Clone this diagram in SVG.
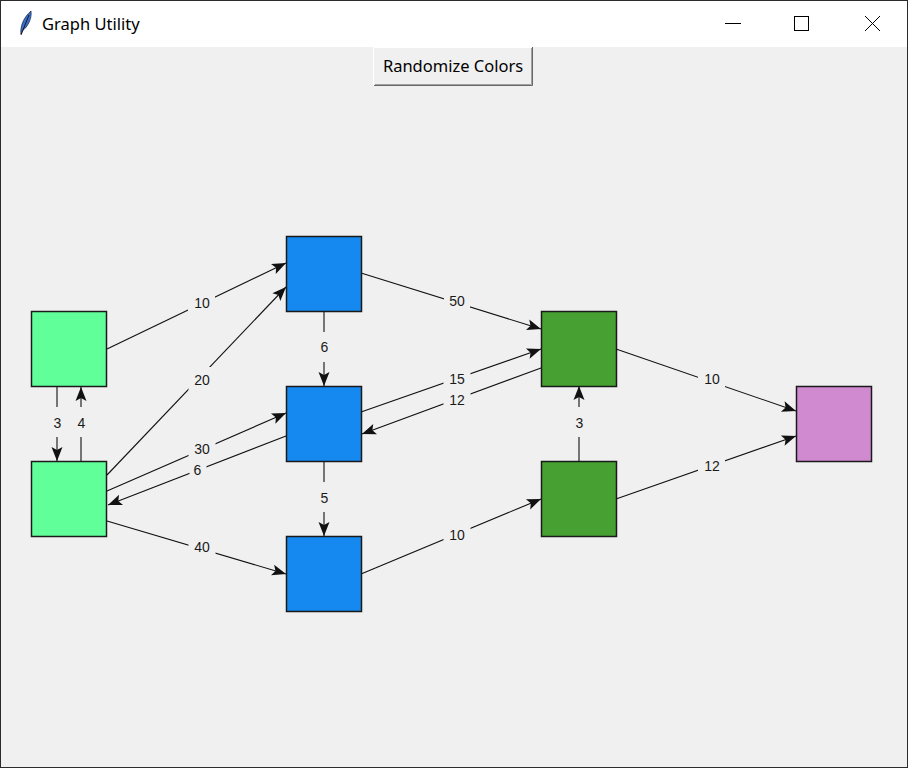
<svg xmlns="http://www.w3.org/2000/svg" width="908" height="768" viewBox="0 0 908 768">
<style>
.node{stroke:#1a1a1a;stroke-width:1.5}
.lg{fill:#60ff9a}
.bl{fill:#1589f0}
.dg{fill:#46a032}
.pk{fill:#d08ad0}
.edge{stroke:#111;stroke-width:1.1;fill:none;marker-end:url(#arr)}
.lblbg{fill:#f0f0f0}
.lbl{font-family:"Liberation Sans",Arial,sans-serif;font-size:14px;fill:#1a1a1a;text-anchor:middle}
.ui{font-family:"Noto Sans","Open Sans",sans-serif;fill:#000}
.ctl{stroke:#000;stroke-width:1;fill:none}
</style>
<defs>
<marker id="arr" markerUnits="userSpaceOnUse" viewBox="-15 -7 16 14" refX="0" refY="0" markerWidth="16" markerHeight="14" orient="auto">
<path d="M0,0 L-14,-5.5 L-11,0 L-14,5.5 Z" fill="#111"/>
</marker>
</defs>
<g id="window">
<rect x="0" y="0" width="908" height="768" fill="#f0f0f0"/>
<rect x="0" y="0" width="908" height="47" fill="#ffffff"/>
<rect x="0.5" y="0.5" width="907" height="767" fill="none" stroke="#2b2b2b" stroke-width="1"/>
<g id="icon">
<path d="M21,34 C20,26 24,17 31,11 C32,18 28,27 22,31 Z" fill="#3b6fc8" stroke="#1d2d55" stroke-width="0.8"/>
<path d="M21,35 L29,15" stroke="#10182a" stroke-width="1"/>
</g>
<text class="ui" x="42" y="30" font-size="16.5px">Graph Utility</text>
<line class="ctl" x1="725" y1="23.5" x2="741" y2="23.5"/>
<rect class="ctl" x="794.5" y="16.5" width="14" height="14"/>
<path class="ctl" d="M865,16 L880,31 M880,16 L865,31"/>
</g>
<g id="button">
<rect x="373" y="47" width="160" height="39" fill="#f0f0f0"/>
<path d="M373.5,86 L373.5,47.5 L533,47.5" fill="none" stroke="#ffffff" stroke-width="1"/>
<path d="M374,85.5 L532.5,85.5 L532.5,47" fill="none" stroke="#696969" stroke-width="1"/>
<path d="M375,84.5 L531.5,84.5 L531.5,48" fill="none" stroke="#a0a0a0" stroke-width="1"/>
<text class="ui" x="453" y="72" font-size="16.5px" text-anchor="middle">Randomize Colors</text>
</g>
<g id="connectors">
<line class="edge" x1="107" y1="349" x2="286" y2="263"/>
<line class="edge" x1="107" y1="475" x2="286" y2="287"/>
<line class="edge" x1="107" y1="491" x2="286" y2="413"/>
<line class="edge" x1="286" y1="436" x2="108" y2="505"/>
<line class="edge" x1="107" y1="521" x2="286" y2="574"/>
<line class="edge" x1="57" y1="387" x2="57" y2="461"/>
<line class="edge" x1="81" y1="461" x2="81" y2="387"/>
<line class="edge" x1="324" y1="311" x2="324" y2="386"/>
<line class="edge" x1="324" y1="461" x2="324" y2="536"/>
<line class="edge" x1="361" y1="273" x2="541" y2="329"/>
<line class="edge" x1="361" y1="412" x2="541" y2="349"/>
<line class="edge" x1="541" y1="368" x2="362" y2="434"/>
<line class="edge" x1="361" y1="574" x2="541" y2="499"/>
<line class="edge" x1="579" y1="461" x2="579" y2="386"/>
<line class="edge" x1="616" y1="349" x2="796" y2="411"/>
<line class="edge" x1="616" y1="499" x2="796" y2="436"/>
</g>
<g id="edge-labels">
<rect class="lblbg" x="188" y="290" width="27" height="26"/><text class="lbl" x="202" y="308">10</text>
<rect class="lblbg" x="188.5" y="367" width="27" height="26"/><text class="lbl" x="202" y="385">20</text>
<rect class="lblbg" x="188.5" y="436" width="27" height="26"/><text class="lbl" x="202" y="454">30</text>
<rect class="lblbg" x="189.5" y="457" width="17" height="26"/><text class="lbl" x="197.5" y="475">6</text>
<rect class="lblbg" x="188.5" y="534" width="27" height="26"/><text class="lbl" x="202" y="552">40</text>
<rect class="lblbg" x="50" y="407" width="15" height="30"/><text class="lbl" x="57.5" y="427.5">3</text>
<rect class="lblbg" x="74" y="407" width="15" height="30"/><text class="lbl" x="81.5" y="427.5">4</text>
<rect class="lblbg" x="317" y="332" width="15" height="30"/><text class="lbl" x="324.5" y="352">6</text>
<rect class="lblbg" x="317" y="482" width="15" height="30"/><text class="lbl" x="324.5" y="502.5">5</text>
<rect class="lblbg" x="444" y="288" width="26" height="26"/><text class="lbl" x="457" y="306">50</text>
<rect class="lblbg" x="443.5" y="365" width="27" height="26"/><text class="lbl" x="457" y="383.5">15</text>
<rect class="lblbg" x="443.5" y="386" width="27" height="26"/><text class="lbl" x="457" y="404.5">12</text>
<rect class="lblbg" x="443.5" y="522" width="27" height="26"/><text class="lbl" x="457" y="540">10</text>
<rect class="lblbg" x="572" y="407" width="15" height="30"/><text class="lbl" x="579.5" y="427.5">3</text>
<rect class="lblbg" x="698" y="366" width="27" height="26"/><text class="lbl" x="712" y="384">10</text>
<rect class="lblbg" x="698" y="452" width="27" height="26"/><text class="lbl" x="712" y="470.5">12</text>
</g>
<g id="node-a"><rect class="node lg" x="31.5" y="311.5" width="75" height="75"/></g>
<g id="node-b"><rect class="node lg" x="31.5" y="461.5" width="75" height="75"/></g>
<g id="node-c"><rect class="node bl" x="286.5" y="236.5" width="75" height="75"/></g>
<g id="node-d"><rect class="node bl" x="286.5" y="386.5" width="75" height="75"/></g>
<g id="node-e"><rect class="node bl" x="286.5" y="536.5" width="75" height="75"/></g>
<g id="node-f"><rect class="node dg" x="541.5" y="311.5" width="75" height="75"/></g>
<g id="node-g"><rect class="node dg" x="541.5" y="461.5" width="75" height="75"/></g>
<g id="node-h"><rect class="node pk" x="796.5" y="386.5" width="75" height="75"/></g>
</svg>
